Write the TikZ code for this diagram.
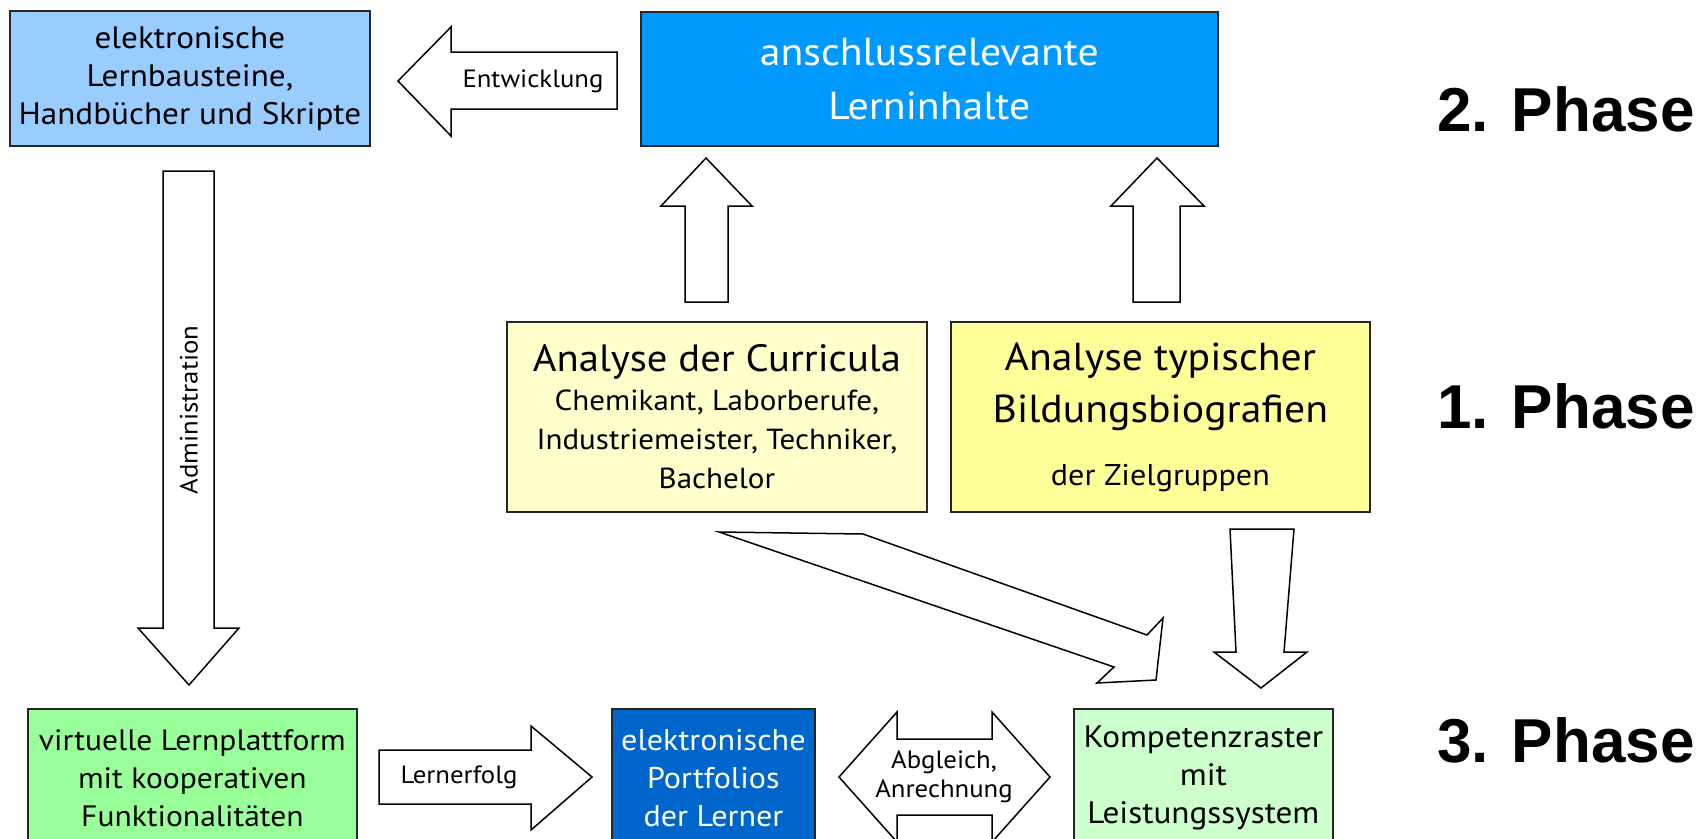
\documentclass[tikz,border=0pt]{standalone}
\usepackage{fontspec}
\setmainfont{PT Sans}[FakeStretch=1.07]
\newfontfamily\phasefont{Liberation Sans}
\definecolor{cLern}{HTML}{99CCFF}
\definecolor{cInh}{HTML}{0099FF}
\definecolor{cCurr}{HTML}{FFFFCC}
\definecolor{cBio}{HTML}{FFFF99}
\definecolor{cPlat}{HTML}{99FF99}
\definecolor{cPort}{HTML}{0066CC}
\definecolor{cKomp}{HTML}{CCFFCC}
\begin{document}
\begin{tikzpicture}[x=1pt,y=-1pt,
  box/.style={draw=black!85,line width=1.8pt,inner sep=0pt,align=center,anchor=north west},
  blk/.style={draw=black,line width=1.5pt,fill=white,line join=miter},
  lbl/.style={inner sep=0pt,align=center,font=\fontsize{25}{29}\selectfont},
  phase/.style={inner sep=0pt,anchor=base west,font=\phasefont\bfseries\fontsize{62}{70}\selectfont},
]
\useasboundingbox (0,0) rectangle (1704,838);

% boxes
\node[box,fill=cLern,minimum width=360,minimum height=135,font=\fontsize{31}{38}\selectfont] (lern) at (9,10)
  {elektronische\\Lernbausteine,\\Handbücher und Skripte};
\node[box,fill=cInh,text=white,minimum width=577,minimum height=134,font=\fontsize{39}{54}\selectfont] (inh) at (640,11)
  {anschlussrelevante\\Lerninhalte};
\node[box,fill=cCurr,minimum width=420,minimum height=190,font=\fontsize{29}{39}\selectfont] (curr) at (506,321)
  {{\fontsize{38}{39}\selectfont Analyse der Curricula}\\Chemikant, Laborberufe,\\Industriemeister, Techniker,\\Bachelor};
\node[box,fill=cBio,minimum width=419,minimum height=190,font=\fontsize{39}{52}\selectfont] (bio) at (950,321)
  {Analyse typischer\\Bildungsbiografien\\[11pt]{\fontsize{30}{39}\selectfont der Zielgruppen}};
\node[box,fill=cPlat,minimum width=329,minimum height=138,font=\fontsize{29.5}{38}\selectfont] (plat) at (27,708)
  {virtuelle Lernplattform\\mit kooperativen\\Funktionalitäten};
\node[box,fill=cPort,text=white,minimum width=203,minimum height=138,font=\fontsize{30}{38}\selectfont] (port) at (611,708)
  {elektronische\\Portfolios\\der Lerner};
\node[box,fill=cKomp,minimum width=259,minimum height=138,font=\fontsize{31}{38}\selectfont] (komp) at (1073,708)
  {Kompetenzraster\\mit\\Leistungssystem};

% block arrows
\draw[blk] (617,52) -- (451,52) -- (451,27) -- (398,81) -- (451,136) -- (451,109) -- (617,109) -- cycle;
\node[lbl] (entw) at (533,81) {Entwicklung};

\draw[blk] (685,302) -- (685,206) -- (661,206) -- (706,158) -- (752,206) -- (728,206) -- (728,302) -- cycle;
\draw[blk] (1133,302) -- (1133,206) -- (1111,206) -- (1157,158) -- (1204,206) -- (1180,206) -- (1180,302) -- cycle;

\draw[blk] (163,171) -- (214,171) -- (214,628) -- (239,628) -- (189,685) -- (138,628) -- (163,628) -- cycle;
\node[lbl,rotate=90] (admin) at (189,410) {Administration};

\draw[blk] (719,532) -- (863,534) -- (1147,635) -- (1163,618) -- (1156,680) -- (1097,683) -- (1114,667) -- cycle;

\draw[blk] (1230,529) -- (1294,529) -- (1284,652) -- (1307,652) -- (1261,688) -- (1214,652) -- (1236,652) -- cycle;

\draw[blk] (379,750) -- (531,750) -- (531,726) -- (592,777) -- (531,830) -- (531,804) -- (379,804) -- cycle;
\node[lbl] (erfolg) at (459,777) {Lernerfolg};

\draw[blk] (839,777) -- (897,712) -- (897,739) -- (992,739) -- (992,712) -- (1050,777) -- (992,842) -- (992,815) -- (897,815) -- (897,842) -- cycle;
\node[lbl] (abgl) at (944,777) {Abgleich,\\Anrechnung};

% phase labels
\node[phase] (p2) at (1437,131) {2. Phase};
\node[phase] (p1) at (1437,428) {1. Phase};
\node[phase] (p3) at (1437,762) {3. Phase};
\end{tikzpicture}
\end{document}
